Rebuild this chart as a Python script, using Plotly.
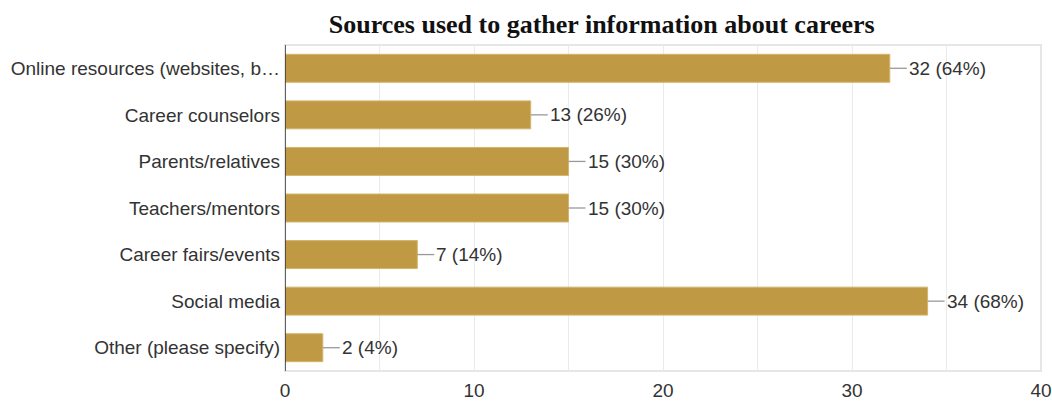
import plotly.graph_objects as go

categories = [
    "Online resources (websites, b…",
    "Career counselors",
    "Parents/relatives",
    "Teachers/mentors",
    "Career fairs/events",
    "Social media",
    "Other (please specify)",
]
counts = [32, 13, 15, 15, 7, 34, 2]
percents = [64, 26, 30, 30, 14, 68, 4]
x_ticks = [0, 10, 20, 30, 40]

BAR = "#BF9944"
TEXT = "#333333"
SANS = "Liberation Sans, Arial"

fig = go.Figure(
    go.Bar(
        x=counts,
        y=categories,
        orientation="h",
        marker=dict(color=BAR, line=dict(color="#D4B46A", width=1)),
        width=0.6,
        hoverinfo="skip",
    )
)

# value labels with a short leader line
shapes = []
annotations = []
for c, v, p in zip(categories, counts, percents):
    shapes.append(dict(type="line", xref="x", yref="y", x0=v, x1=v + 0.9, y0=c, y1=c,
                       line=dict(color="#999999", width=1.3)))
    annotations.append(dict(x=v + 0.9, y=c, xref="x", yref="y", text=f"{v} ({p}%)",
                            showarrow=False, xanchor="left", yanchor="middle",
                            font=dict(family=SANS, size=19, color=TEXT)))

fig.update_layout(
    width=1052,
    height=401,
    margin=dict(l=285, r=11, t=45, b=30, autoexpand=False),
    paper_bgcolor="white",
    plot_bgcolor="white",
    showlegend=False,
    bargap=0.4,
    shapes=shapes,
    annotations=annotations,
    title=dict(
        text="<b>Sources used to gather information about careers</b>",
        x=0.572, xanchor="center", y=0.94, yanchor="middle",
        font=dict(family="Liberation Serif, Times New Roman, serif", size=26, color="#111111"),
    ),
    xaxis=dict(
        range=[0, 40],
        tickvals=x_ticks,
        ticktext=[str(t) for t in x_ticks],
        showgrid=True,
        gridcolor="#EBEBEB",
        gridwidth=1,
        minor=dict(dtick=5, showgrid=True, gridcolor="#EBEBEB", gridwidth=1),
        zeroline=False,
        showline=False,
        ticks="",
        ticklabelstandoff=6,
        automargin=False,
        tickfont=dict(family=SANS, size=19, color=TEXT),
        fixedrange=True,
    ),
    yaxis=dict(
        autorange="reversed",
        showgrid=False,
        showline=False,
        ticks="",
        ticklabelstandoff=4,
        automargin=False,
        tickfont=dict(family=SANS, size=19, color=TEXT),
        fixedrange=True,
    ),
)

# light grey frame around the plotting area
fig.add_shape(type="rect", xref="paper", yref="paper", x0=0, x1=1, y0=0, y1=1,
              line=dict(color="#E6E6E6", width=2), layer="below")
# dark baseline at zero
fig.add_shape(type="line", xref="x", yref="paper", x0=0, x1=0, y0=0, y1=1,
              line=dict(color="#333333", width=1.5), layer="above")

fig.write_html("out.html")
